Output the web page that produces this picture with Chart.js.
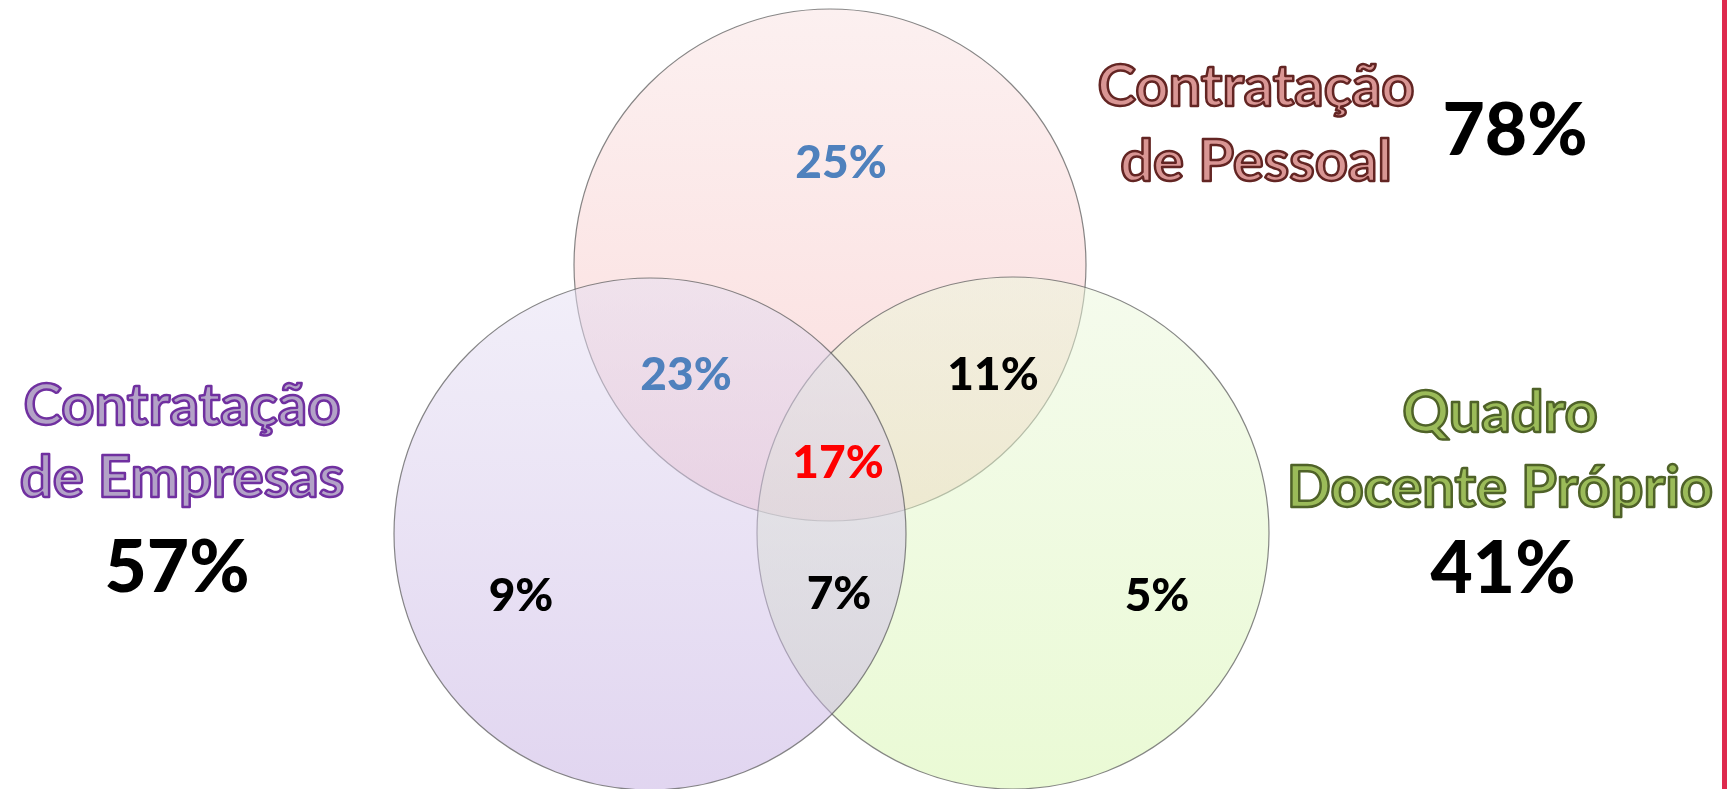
<!DOCTYPE html>
<html>
<head>
<meta charset="utf-8">
<script src="https://cdn.jsdelivr.net/npm/chart.js@4.4.1/dist/chart.umd.min.js"></script>
<style>
  html, body { margin: 0; padding: 0; background: #ffffff; }
  #wrap { position: relative; width: 1733px; height: 789px; overflow: hidden; }
  #rule { position: absolute; left: 1722px; top: 0; width: 5px; height: 789px; background: #de2a4e; }
</style>
</head>
<body>
<div id="wrap">
  <canvas id="c" width="1733" height="789"></canvas>
  <div id="rule"></div>
</div>
<script>
// ---- data ----
const setNames = ['Contratação de Pessoal', 'Contratação de Empresas', 'Quadro Docente Próprio'];
const setTitleLines = [['Contratação', 'de Pessoal'], ['Contratação', 'de Empresas'], ['Quadro', 'Docente Próprio']];
const setTotals = [78, 57, 41];
const regionNames = ['Só Pessoal', 'Pessoal + Empresas', 'Pessoal + Docente', 'Todos', 'Só Empresas', 'Empresas + Docente', 'Só Docente'];
const regionValues = [25, 23, 11, 17, 9, 7, 5];

// ---- layout (drawing positions in scale units; canvas is mapped 1:1) ----
const circleLayout = [
  { x: 830, y: 265, r: 256 },   // Pessoal (top)
  { x: 650, y: 534, r: 256 },   // Empresas (left)
  { x: 1013, y: 533, r: 256 }   // Docente (right)
];
const regionLabelPos = [
  { x: 841, y: 178 }, { x: 686, y: 390 }, { x: 993, y: 390 }, { x: 838, y: 478 },
  { x: 521, y: 611 }, { x: 839, y: 609 }, { x: 1157, y: 611 }
];
const regionColors = ['#4f81bd', '#4f81bd', '#000000', '#ff0000', '#000000', '#000000', '#000000'];
const titlePos = [
  { x: 1256, y: [106, 181], tx: 1515, ty: 155 },
  { x: 182, y: [425, 497], tx: 177, ty: 592 },
  { x: 1500, y: [432, 507], tx: 1503, ty: 593 }
];
const titleStyle = [
  { fill: '#d99694', stroke: '#632523' },
  { fill: '#b3a2c7', stroke: '#7030a0' },
  { fill: '#9bbb59', stroke: '#4f6228' }
];
// gradient top / bottom colours (drawn at 50% opacity)
const fillGrad = [
  ['rgba(249,225,225,0.5)', 'rgba(247,187,187,0.5)'],
  ['rgba(229,223,243,0.5)', 'rgba(195,172,225,0.5)'],
  ['rgba(235,247,219,0.5)', 'rgba(213,245,171,0.5)']
];
// draw order: pink first, then green, then purple on top
const drawOrder = [3, 1, 2];

const FONT = 'Lato, "Open Sans", sans-serif';

function gradientFor(i) {
  return function (ctx) {
    const chart = ctx.chart;
    const ys = chart.scales.y;
    if (!ys || !chart.chartArea) return fillGrad[i][1];
    const raw = ctx.raw || circleLayout[i];
    const cy = ys.getPixelForValue(raw.y);
    const g = chart.ctx.createLinearGradient(0, cy - raw.r, 0, cy + raw.r);
    g.addColorStop(0, fillGrad[i][0]);
    g.addColorStop(1, fillGrad[i][1]);
    return g;
  };
}

const datasets = setNames.map((name, i) => ({
  label: name,
  data: [{ x: circleLayout[i].x, y: circleLayout[i].y, r: circleLayout[i].r, v: setTotals[i] }],
  backgroundColor: gradientFor(i),
  borderColor: 'rgba(95,95,95,0.75)',
  borderWidth: 1.2,
  hoverRadius: 0,
  clip: false,
  order: drawOrder[i]
}));

const labelPlugin = {
  id: 'vennLabels',
  afterDatasetsDraw(chart) {
    const { ctx } = chart;
    const xs = chart.scales.x, ys = chart.scales.y;
    ctx.save();
    ctx.textAlign = 'center';
    ctx.textBaseline = 'alphabetic';
    // region values
    ctx.font = '900 46px ' + FONT;
    regionValues.forEach((v, i) => {
      ctx.fillStyle = regionColors[i];
      ctx.fillText(v + '%', xs.getPixelForValue(regionLabelPos[i].x), ys.getPixelForValue(regionLabelPos[i].y));
    });
    // set titles and totals
    setTitleLines.forEach((lines, i) => {
      const p = titlePos[i];
      ctx.font = '700 58px ' + FONT;
      ctx.lineJoin = 'round';
      lines.forEach((ln, k) => {
        const px = xs.getPixelForValue(p.x), py = ys.getPixelForValue(p.y[k]);
        ctx.fillStyle = titleStyle[i].fill;
        ctx.fillText(ln, px, py);
        ctx.strokeStyle = titleStyle[i].stroke;
        ctx.lineWidth = 2.5;
        ctx.strokeText(ln, px, py);
      });
      ctx.font = '900 73px ' + FONT;
      ctx.fillStyle = '#000000';
      ctx.fillText(setTotals[i] + '%', xs.getPixelForValue(p.tx), ys.getPixelForValue(p.ty));
    });
    ctx.restore();
  }
};

new Chart(document.getElementById('c'), {
  type: 'bubble',
  data: { datasets },
  options: {
    responsive: false,
    animation: false,
    events: [],
    layout: { padding: 0, autoPadding: false },
    plugins: { legend: { display: false }, tooltip: { enabled: false } },
    scales: {
      x: { type: 'linear', min: 0, max: 1733, display: false },
      y: { type: 'linear', min: 0, max: 789, reverse: true, display: false }
    }
  },
  plugins: [labelPlugin]
});
</script>
</body>
</html>
